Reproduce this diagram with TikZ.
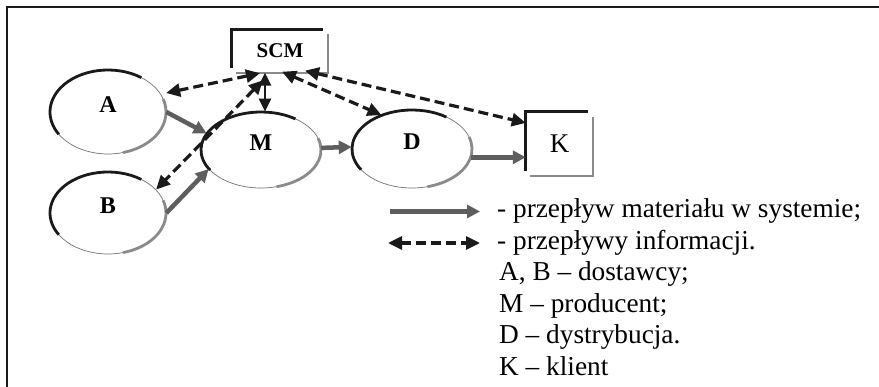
\documentclass[tikz,border=0pt]{standalone}
\usepackage{fontspec}
\setmainfont{Liberation Serif}
\usetikzlibrary{shapes.geometric,arrows.meta,calc}
\definecolor{matgray}{HTML}{5E5E5E}
\definecolor{shadegray}{HTML}{8A8A8A}
\definecolor{ink}{HTML}{1A1A1A}
\newcommand\ellshade[3]{%
  \draw[line width=2.8pt, ink] ($(#1.center)+(55:#2pt and #3pt)$) arc[start angle=55, end angle=212, x radius=#2pt, y radius=#3pt];
  \draw[line width=2.8pt, shadegray] ($(#1.center)+(285:#2pt and #3pt)$) arc[start angle=285, end angle=378, x radius=#2pt, y radius=#3pt];
}
\begin{document}
\begin{tikzpicture}[x=1pt,y=-1pt,
  ell/.style={ellipse, draw=black!55, line width=0.7pt, inner sep=0pt,
    font=\fontsize{24}{28}\selectfont\bfseries, text height=14pt, text depth=13pt},
  mat/.style={draw=matgray, line width=4.5pt, -{Triangle[length=13pt,width=13pt]}},
  info/.style={draw=ink, line width=3.2pt, dash pattern=on 10pt off 5pt,
    {Triangle[length=14pt,width=13pt]}-{Triangle[length=14pt,width=13pt]}},
  infosolid/.style={draw=ink, line width=2.6pt,
    {Triangle[length=13pt,width=12pt]}-{Triangle[length=13pt,width=12pt]}},
  leg/.style={font=\fontsize{27.3}{32}\selectfont, inner sep=0pt, anchor=base west},
  boxfront/.style={draw=ink, line width=3pt},
  boxshade/.style={draw=shadegray, line width=2.2pt},
]
\useasboundingbox (0,0) rectangle (879,387);
\fill[white] (0,0) rectangle (879,387);
% frame
\draw[ink, line width=2.2pt] (7,387) -- (7,7) -- (879,7);

% nodes
\node[ell, minimum width=116pt, minimum height=84pt] (A) at (108,112) {A};
\node[ell, minimum width=116pt, minimum height=82pt] (B) at (108,213) {B};
\node[ell, minimum width=120pt, minimum height=76pt] (M) at (261,150) {M};
\node[ell, minimum width=120pt, minimum height=78pt] (D) at (412,149) {D};
\ellshade{A}{58}{42}
\ellshade{B}{58}{41}
\ellshade{M}{60}{38}
\ellshade{D}{60}{39}

\node[minimum width=96pt, minimum height=43pt, inner sep=0pt,
  font=\fontsize{21}{25}\selectfont\bfseries] (SCM) at (280,51) {SCM};
\draw[boxfront] ($(SCM.south west)+(0,-5)$) -- (SCM.north west) -- ($(SCM.north east)+(-5,0)$);
\draw[boxshade] ($(SCM.north east)+(0,5)$) -- (SCM.south east) -- ($(SCM.south west)+(4,0)$);

\node[minimum width=67pt, minimum height=64pt, inner sep=0pt,
  font=\fontsize{27}{32}\selectfont] (K) at (559.5,144) {K};
\draw[boxfront] ($(K.south west)+(0,-5)$) -- (K.north west) -- ($(K.north east)+(-5,0)$);
\draw[boxshade] ($(K.north east)+(0,5)$) -- (K.south east) -- ($(K.south west)+(4,0)$);

% material flows
\draw[mat] (A.east) -- (M.163);
\draw[mat] (B.east) -- (M.200);
\draw[mat] (M.2) -- (D.178);
\draw[mat] (D.-8) -- (D.-8 -| K.west);

% information flows
\draw[info] ($(SCM.south)+(-20,0.5)$) -- ($(A.20)+(6,0)$);
\draw[info] ($(SCM.south)+(-17,7.5)$) -- (B.26);
\draw[infosolid] ($(SCM.south)+(-15,0)$) -- ($(M.north)+(4,0)$);
\draw[info] ($(SCM.south)+(2,-1)$) -- (D.132);
\draw[info] ($(SCM.south)+(25,-2)$) -- (K.148);

% legend
\coordinate (lm1) at (390,211.5);
\coordinate (lm2) at (480,211.5);
\coordinate (li1) at (388,243);
\coordinate (li2) at (480,243);
\draw[mat] (lm1) -- (lm2);
\draw[info] (li1) -- (li2);
\node[leg] (t1) at (497,218) {- przepływ materiału w systemie;};
\node[leg] (t2) at (497,249.5) {- przepływy informacji.};
\node[leg] (t3) at (499,281) {A, B – dostawcy;};
\node[leg] (t4) at (499,312.5) {M – producent;};
\node[leg] (t5) at (499,344) {D – dystrybucja.};
\node[leg] (t6) at (499,375.5) {K – klient};
\end{tikzpicture}
\end{document}
